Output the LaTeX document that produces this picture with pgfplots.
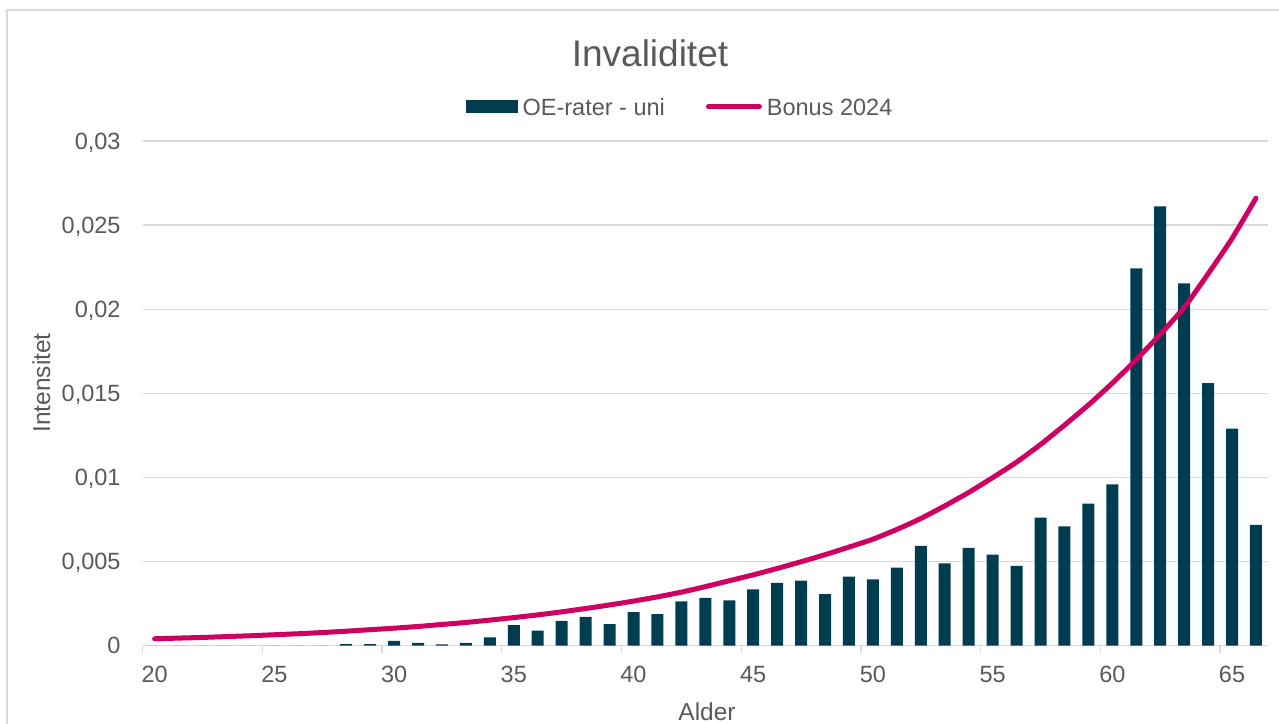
\documentclass[border=0pt]{standalone}
\usepackage{pgfplots}
\pgfplotsset{compat=1.18}
\usepackage{pgfplotstable}
\usepackage{fontspec}
\setmainfont{Liberation Sans}
\definecolor{barc}{RGB}{0,61,81}
\definecolor{linec}{RGB}{206,0,98}
\definecolor{txt}{RGB}{89,89,89}
\definecolor{gridc}{RGB}{217,217,217}

\pgfplotstableread{
age oe bonus
20 0 0.00040
21 0 0.00044
22 0 0.00048
23 0 0.00053
24 0 0.00058
25 0 0.00064
26 0 0.00070
27 0 0.00077
28 0.00008 0.00085
29 0.00008 0.00094
30 0.00027 0.00103
31 0.00015 0.00113
32 0.00007 0.00125
33 0.00015 0.00137
34 0.00048 0.00151
35 0.00121 0.00166
36 0.00088 0.00182
37 0.00146 0.00200
38 0.00170 0.00220
39 0.00127 0.00241
40 0.00198 0.00264
41 0.00186 0.00289
42 0.00263 0.00317
43 0.00283 0.00350
44 0.00269 0.00385
45 0.00333 0.00420
46 0.00372 0.00458
47 0.00386 0.00498
48 0.00305 0.00540
49 0.00410 0.00585
50 0.00393 0.00632
51 0.00463 0.00690
52 0.00593 0.00755
53 0.00488 0.00830
54 0.00581 0.00910
55 0.00540 0.00998
56 0.00473 0.01090
57 0.00760 0.01195
58 0.00708 0.01310
59 0.00843 0.01430
60 0.00958 0.01560
61 0.02242 0.01700
62 0.02611 0.01850
63 0.02153 0.02010
64 0.01560 0.02210
65 0.01290 0.02420
66 0.00717 0.02660
}\datatable

\begin{document}
\begin{tikzpicture}
\path[use as bounding box] (0,0) rectangle (1279bp,724bp);
\draw[gridc, line width=1.2bp] (7bp,-10bp) -- (7bp,714bp) -- (1290bp,714bp);
\begin{axis}[
  at={(142.7bp,78.5bp)}, anchor=south west,
  scale only axis, width=1125.3bp, height=504.5bp,
  xmin=19.5, xmax=66.5, ymin=0, ymax=0.03,
  axis x line*=bottom, axis y line*=left,
  x axis line style={draw=gridc, line width=1.3bp, -},
  y axis line style={draw=none},
  xtick={20,25,...,65},
  extra x ticks={19.5,24.5,...,64.5},
  extra x tick labels={},
  extra x tick style={major tick length=7bp, tick align=outside, xmajorgrids=false,
     major tick style={draw=gridc, line width=1.3bp}},
  major tick length=0pt,
  ytick={0,0.005,0.01,0.015,0.02,0.025,0.03},
  yticklabels={0,{0,005},{0,01},{0,015},{0,02},{0,025},{0,03}},
  scaled y ticks=false,
  ymajorgrids, grid style={draw=gridc, line width=1.3bp},
  tick label style={font=\fontsize{23.5bp}{28bp}\selectfont, text=txt},
  xticklabel style={anchor=north, inner sep=0pt, yshift=-20.5bp},
  yticklabel style={anchor=base east, inner sep=0pt, xshift=-22bp, yshift=-8.4bp},
  /pgf/number format/assume math mode=true,
  clip=false,
  legend columns=2,
  legend style={at={(0.4766,1.0666)}, anchor=center, draw=none, fill=none,
     font=\fontsize{23.5bp}{28bp}\selectfont, text=txt,
     column sep=5bp, inner sep=0pt,
     /tikz/every even column/.append style={column sep=41bp},
     nodes={inner sep=0pt, anchor=base west}},
]
\addplot[ybar, bar width=12bp, fill=barc, draw=none,
  legend image code/.code={\fill[barc] (0bp,1.7bp) rectangle (52bp,14.7bp);}]
  table[x=age, y=oe] {\datatable};
\addlegendentry{OE-rater - uni}
\addplot[linec, line width=5bp, line cap=round, line join=round, mark=none, smooth, tension=0.3,
  legend image code/.code={\draw[linec, line width=5bp, line cap=round] (0bp,8.4bp) -- (51bp,8.4bp);}]
  table[x=age, y=bonus] {\datatable};
\addlegendentry{Bonus 2024}
\end{axis}
\node[anchor=base, text=txt, font=\fontsize{37bp}{44bp}\selectfont, inner sep=0pt] at (650bp,657bp) {Invaliditet};
\node[anchor=base, text=txt, font=\fontsize{24.5bp}{29bp}\selectfont, inner sep=0pt] at (707bp,4bp) {Alder};
\node[anchor=base, rotate=90, text=txt, font=\fontsize{24.5bp}{29bp}\selectfont, inner sep=0pt] at (50bp,341bp) {Intensitet};
\end{tikzpicture}
\end{document}
